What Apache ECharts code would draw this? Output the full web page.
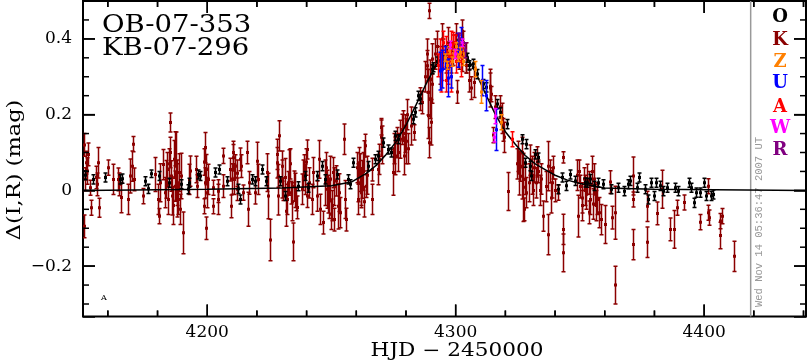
<!DOCTYPE html>
<html><head><meta charset="utf-8">
<script src="https://cdn.jsdelivr.net/npm/echarts@6/dist/echarts.min.js"></script>
<style>html,body{margin:0;padding:0;background:#fff}#c{width:807px;height:362px}</style>
</head><body><div id="c"></div>
<script>
// ---- axis ranges & ticks ----
const X_MIN = 4150, X_MAX = 4441;
const Y_MIN = -0.333, Y_MAX = 0.5;
const xMajorTicks = [4200, 4300, 4400];
const xMinorTicks = [4160, 4180, 4220, 4240, 4260, 4280, 4320, 4340, 4360, 4380, 4420, 4440];
const yMajorTicks = [-0.2, 0, 0.2, 0.4];
const yMinorTicks = [-0.3, -0.25, -0.15, -0.1, -0.05, 0.05, 0.1, 0.15, 0.25, 0.3, 0.35, 0.45];
const nowHJD = 4418.73;

// ---- titles / labels ----
const eventNames = ['OB-07-353', 'KB-07-296'];
const xTitle = 'HJD − 2450000';
const yTitle = 'Δ(I,R) (mag)';
const stamp = 'Wed Nov 14 05:36:47 2007 UT';
const stations = ['O', 'K', 'Z', 'U', 'A', 'W', 'R'];
const stationColors = ['#000000', '#8b0000', '#ff8000', '#0000ff', '#ff0000', '#ff00ff', '#800080'];

// ---- data: [HJD-2450000, delta mag, error] ----
const dataK = [
[4150.3,0.120,0.030],[4150.3,-0.095,0.030],[4151.3,0.073,0.030],[4151.6,0.051,0.035],[4152.0,0.095,0.030],
[4152.7,0.007,0.020],[4153.4,-0.046,0.020],[4155.1,0.034,0.030],[4155.6,0.016,0.030],[4156.0,0.073,0.040],
[4156.4,-0.046,0.025],[4160.1,0.060,0.020],[4162.1,0.029,0.040],[4164.1,0.029,0.030],[4164.5,0.016,0.030],
[4165.4,-0.019,0.040],[4168.1,-0.024,0.040],[4168.8,0.038,0.045],[4169.9,0.064,0.040],[4170.1,0.122,0.020],
[4170.4,0.029,0.030],[4174.1,-0.015,0.020],[4178.8,0.042,0.045],[4180.2,-0.024,0.040],[4180.6,-0.068,0.020],
[4181.1,0.020,0.050],[4182.2,0.068,0.040],[4182.9,-0.006,0.040],[4183.5,0.029,0.050],[4184.2,-0.024,0.040],
[4184.9,0.100,0.040],[4185.1,0.179,0.025],[4185.5,0.038,0.040],[4185.9,-0.015,0.050],[4186.5,0.082,0.050],
[4186.9,0.011,0.040],[4187.3,0.064,0.090],[4187.8,0.020,0.060],[4188.2,-0.024,0.040],[4188.6,0.047,0.050],
[4189.3,0.038,0.060],[4190.2,-0.112,0.055],[4192.7,0.029,0.040],[4192.9,0.051,0.040],[4195.3,0.055,0.035],
[4195.9,0.011,0.030],[4198.6,-0.042,0.020],[4199.0,0.113,0.040],[4199.4,-0.100,0.030],[4199.6,0.055,0.040],
[4199.9,-0.006,0.040],[4200.3,0.029,0.040],
[4151.0,0.030,0.030],[4183.8,0.055,0.045],[4184.5,0.070,0.040],[4186.2,-0.040,0.050],[4187.0,0.110,0.045],
[4188.0,0.000,0.070],[4188.9,-0.050,0.040],[4198.8,0.075,0.035],[4199.2,0.020,0.040],
[4202.4,0.007,0.020],[4202.4,-0.042,0.020],[4204.5,-0.024,0.040],[4204.5,-0.002,0.030],[4206.2,0.091,0.020],
[4206.5,0.011,0.030],[4209.1,0.055,0.030],[4209.6,-0.042,0.030],[4210.2,0.086,0.035],[4210.8,0.029,0.040],
[4211.2,0.064,0.030],[4211.8,0.003,0.030],[4213.2,0.082,0.030],[4213.4,0.064,0.030],[4214.2,-0.006,0.020],
[4216.1,0.100,0.030],[4216.5,-0.050,0.045],[4216.9,0.020,0.030],[4219.2,-0.006,0.030],[4220.1,0.077,0.050],
[4220.5,0.029,0.040],[4223.9,0.047,0.050],[4224.6,-0.015,0.060],[4225.2,-0.131,0.055],[4227.9,0.073,0.040],
[4228.3,0.038,0.030],[4228.6,-0.015,0.050],[4229.0,0.144,0.040],[4229.9,0.064,0.040],[4230.6,0.003,0.030],
[4231.3,0.034,0.050],[4232.0,-0.024,0.040],[4232.6,0.020,0.030],[4233.0,0.047,0.060],[4233.6,-0.006,0.030],
[4234.4,-0.136,0.050],[4234.9,0.011,0.040],[4235.7,-0.024,0.030],[4238.0,0.003,0.040],[4238.9,0.064,0.030],
[4239.3,0.029,0.040],[4240.0,0.108,0.025],[4240.3,-0.015,0.030],[4242.0,-0.024,0.040],[4242.7,0.047,0.040],
[4244.0,-0.015,0.040],[4245.1,0.082,0.050],[4245.4,-0.050,0.040],[4246.4,-0.085,0.030],[4247.4,0.020,0.060],
[4248.3,0.003,0.050],[4249.1,-0.024,0.050],[4249.7,-0.063,0.040],[4250.5,0.047,0.040],[4251.0,-0.077,0.030],
[4252.7,-0.042,0.060],
[4209.8,0.030,0.040],[4210.5,0.100,0.030],[4212.0,0.045,0.035],[4228.0,0.095,0.040],[4230.2,0.030,0.050],
[4231.8,-0.055,0.040],[4233.3,0.070,0.040],[4234.0,-0.030,0.050],[4235.2,0.000,0.045],[4236.0,-0.045,0.030],
[4238.4,0.040,0.040],[4239.8,0.075,0.035],[4240.8,0.020,0.040],[4247.8,0.060,0.040],[4248.8,-0.010,0.050],
[4249.4,0.030,0.060],[4250.2,-0.040,0.040],[4251.2,0.010,0.050],[4252.0,0.025,0.040],
[4253.0,-0.006,0.050],[4253.4,-0.059,0.040],[4255.2,0.135,0.040],[4255.4,-0.024,0.050],[4255.7,-0.077,0.030],
[4260.5,0.020,0.050],[4260.8,-0.024,0.040],[4261.1,0.073,0.040],[4261.5,0.047,0.050],[4261.9,-0.006,0.040],
[4262.4,0.029,0.050],[4263.2,0.091,0.040],[4263.7,0.118,0.030],[4264.1,0.011,0.030],[4266.2,0.055,0.030],
[4266.4,-0.024,0.040],[4268.6,0.055,0.040],[4269.1,0.082,0.040],[4269.9,0.166,0.020],[4270.3,0.120,0.050],
[4274.9,0.047,0.060],[4275.5,0.091,0.050],[4276.2,0.126,0.040],[4277.6,0.135,0.050],[4278.2,0.161,0.040],
[4278.9,0.170,0.040],[4279.3,0.091,0.050],[4280.0,0.130,0.060],[4281.0,0.110,0.040],[4283.3,0.153,0.020],
[4260.2,0.060,0.040],[4262.0,0.010,0.050],[4262.8,0.050,0.050],[4263.0,-0.030,0.040],[4264.5,0.040,0.050],
[4270.0,0.140,0.050],[4275.0,0.110,0.040],[4276.8,0.100,0.050],[4279.8,0.150,0.050],[4280.5,0.200,0.040],
[4282.0,0.170,0.050],
[4285.6,0.241,0.030],[4286.5,0.232,0.030],[4288.3,0.329,0.040],[4288.7,0.259,0.060],[4289.0,0.197,0.060],
[4289.4,0.126,0.040],[4289.4,0.474,0.020],[4289.6,0.294,0.050],[4290.3,0.347,0.040],[4290.6,0.280,0.050],
[4287.8,0.300,0.040],[4288.5,0.360,0.040],[4289.8,0.240,0.050],[4290.0,0.180,0.060],
[4291.5,0.360,0.040],[4292.5,0.380,0.040],[4293.5,0.330,0.050],[4294.5,0.400,0.040],[4295.0,0.360,0.040],
[4296.0,0.340,0.030],[4297.0,0.390,0.040],[4298.0,0.350,0.040],[4299.0,0.370,0.040],[4300.0,0.410,0.030],
[4300.4,0.260,0.030],[4301.5,0.360,0.040],[4302.4,0.420,0.030],[4302.4,0.334,0.020],[4303.0,0.390,0.030],
[4304.0,0.350,0.040],[4304.1,0.330,0.020],[4305.5,0.290,0.030],[4306.0,0.270,0.030],[4307.3,0.285,0.040],
[4313.8,0.275,0.035],[4314.0,0.270,0.050],[4314.4,0.254,0.020],[4315.1,0.146,0.020],[4315.8,0.220,0.030],
[4318.0,0.220,0.030],[4318.5,0.190,0.040],[4319.0,0.160,0.030],[4319.5,0.140,0.040],[4321.2,-0.003,0.050],
[4325.0,0.090,0.040],[4325.6,0.045,0.057],[4326.0,0.064,0.040],[4326.5,0.037,0.060],[4327.2,0.008,0.090],
[4327.5,-0.050,0.030],[4328.0,0.029,0.040],[4328.5,-0.006,0.040],[4330.0,0.080,0.040],[4330.8,0.040,0.050],
[4331.5,0.060,0.040],[4332.3,0.020,0.040],[4333.0,0.050,0.030],[4333.9,0.000,0.040],[4335.2,-0.068,0.040],
[4337.2,0.064,0.065],[4337.3,-0.117,0.053],[4338.0,0.050,0.030],[4338.6,0.020,0.040],[4339.3,0.060,0.030],
[4339.8,0.000,0.030],[4341.3,-0.006,0.020],[4343.3,0.087,0.015],[4343.3,-0.103,0.040],[4343.3,-0.165,0.050],
[4324.5,0.070,0.040],[4326.8,0.100,0.040],[4329.5,0.020,0.050],[4331.0,0.000,0.040],[4332.8,0.075,0.040],
[4334.5,0.030,0.040],[4336.2,0.010,0.040],[4338.3,-0.020,0.040],
[4348.7,0.040,0.040],[4349.3,-0.068,0.055],[4350.0,0.010,0.030],[4350.7,-0.020,0.040],[4351.5,0.030,0.030],
[4352.5,-0.010,0.040],[4353.0,0.029,0.040],[4353.5,-0.058,0.030],[4354.2,-0.024,0.040],[4354.7,0.050,0.040],
[4355.2,-0.036,0.040],[4356.0,-0.010,0.030],[4357.0,-0.024,0.040],[4357.6,-0.059,0.040],[4358.5,-0.077,0.040],
[4349.8,0.050,0.030],[4351.0,-0.040,0.040],[4352.0,0.000,0.040],[4353.8,0.020,0.030],[4355.8,0.030,0.040],
[4356.6,-0.040,0.040],
[4360.0,-0.090,0.050],[4362.1,0.022,0.030],[4363.0,-0.072,0.030],[4364.1,-0.059,0.070],[4364.3,-0.250,0.050],
[4371.2,0.038,0.050],[4371.2,-0.024,0.020],[4371.5,-0.143,0.040],[4377.1,-0.042,0.040],[4377.1,-0.137,0.040],
[4381.1,-0.061,0.030],[4382.9,0.003,0.050],[4386.2,-0.103,0.030],[4388.0,-0.103,0.050],[4389.2,-0.046,0.020],
[4392.0,-0.032,0.020],[4398.3,-0.084,0.020],[4401.4,-0.059,0.020],[4401.6,0.011,0.020],[4401.9,-0.072,0.020],
[4406.3,-0.119,0.035],[4406.3,-0.081,0.020],[4407.3,-0.068,0.020],[4412.1,-0.174,0.040]
];
const dataO = [
[4150.8,0.040,0.012],[4154.0,0.029,0.012],[4158.7,0.034,0.012],[4164.8,0.029,0.012],[4165.8,0.031,0.012],
[4174.8,0.024,0.012],[4176.2,0.004,0.012],[4177.5,0.044,0.010],[4180.6,0.038,0.012],[4184.6,0.020,0.012],
[4189.6,0.016,0.012],[4192.3,0.003,0.012],[4192.7,0.020,0.012],[4196.3,0.042,0.012],[4196.9,0.038,0.012],
[4203.1,0.047,0.012],[4204.9,0.055,0.012],[4207.8,0.024,0.012],[4212.5,0.004,0.012],[4213.2,-0.024,0.012],
[4217.9,0.029,0.012],[4219.2,0.024,0.012],[4221.9,0.055,0.012],[4223.6,0.024,0.012],[4229.3,0.024,0.012],
[4231.3,-0.015,0.012],[4236.6,0.011,0.012],[4239.3,0.038,0.012],[4240.7,0.007,0.012],[4244.0,0.038,0.012],
[4246.0,0.064,0.012],[4247.4,0.029,0.012],[4252.1,0.042,0.012],[4256.8,0.029,0.012],[4257.4,0.016,0.012],
[4258.8,0.073,0.012],[4264.8,0.064,0.012],[4267.5,0.082,0.012],[4268.8,0.091,0.012],[4270.9,0.126,0.012],
[4272.9,0.108,0.012],[4273.9,0.100,0.012],[4275.5,0.144,0.012],[4276.9,0.135,0.012],[4282.9,0.188,0.012],
[4283.6,0.206,0.012],[4284.9,0.250,0.012],[4285.6,0.241,0.012],[4290.3,0.320,0.012],[4291.0,0.325,0.012],
[4292.5,0.340,0.012],[4294.0,0.350,0.012],[4296.0,0.370,0.012],[4299.0,0.380,0.012],[4301.0,0.385,0.012],
[4303.0,0.370,0.012],[4304.5,0.350,0.012],[4305.5,0.330,0.012],[4307.1,0.334,0.012],[4308.4,0.307,0.012],
[4311.1,0.281,0.012],[4312.4,0.272,0.012],[4316.5,0.228,0.012],[4317.8,0.206,0.012],[4320.5,0.175,0.012],
[4326.5,0.135,0.012],[4328.5,0.122,0.012],[4327.9,0.073,0.012],[4329.9,0.064,0.012],[4331.9,0.095,0.012],
[4333.2,0.087,0.012],[4330.5,0.038,0.012],[4341.3,0.003,0.012],[4342.6,0.034,0.012],[4344.6,0.012,0.012],
[4346.0,0.042,0.012],[4348.0,0.025,0.012],[4352.0,0.021,0.012],[4352.7,0.020,0.012],[4354.0,0.030,0.012],
[4355.5,0.012,0.012],[4357.4,0.020,0.012],[4359.4,0.016,0.012],[4362.7,0.003,0.012],[4365.4,0.007,0.012],
[4367.8,-0.002,0.012],[4369.2,0.016,0.012],[4370.1,0.025,0.012],[4372.8,0.007,0.012],[4373.9,0.034,0.012],
[4376.1,0.003,0.012],[4377.5,-0.024,0.012],[4378.8,0.020,0.012],[4379.9,-0.015,0.012],[4380.8,0.020,0.012],
[4382.2,0.012,0.012],[4383.5,-0.002,0.012],[4384.9,0.007,0.012],[4388.2,0.007,0.012],[4389.3,-0.002,0.012],
[4393.9,0.020,0.012],[4394.9,0.007,0.012],[4396.0,-0.033,0.012],[4396.9,-0.006,0.012],[4398.3,-0.006,0.012],
[4400.0,0.020,0.012],[4400.9,-0.015,0.012],[4402.7,-0.015,0.012],[4403.6,-0.011,0.012]
];
const dataA = [
[4292.8,0.330,0.030],[4293.6,0.360,0.040],[4294.2,0.310,0.050],[4294.5,0.330,0.040],[4295.0,0.390,0.030],
[4296.2,0.366,0.040],[4296.3,0.290,0.030],[4296.8,0.320,0.040],[4297.5,0.355,0.030],[4298.2,0.300,0.040],
[4298.3,0.380,0.040],[4298.9,0.387,0.030],[4299.6,0.390,0.020],[4300.2,0.340,0.030],[4300.9,0.360,0.020],
[4301.5,0.380,0.030],[4302.2,0.340,0.040],[4303.0,0.370,0.020],[4322.5,0.135,0.020]
];
const dataU = [
[4293.5,0.315,0.050],[4294.3,0.320,0.050],[4295.5,0.350,0.030],[4296.9,0.297,0.050],[4298.3,0.300,0.030],
[4300.9,0.370,0.045],[4302.0,0.400,0.030],[4310.4,0.290,0.040],[4312.4,0.250,0.040],[4316.2,0.160,0.055]
];
const dataZ = [
[4295.5,0.350,0.010],[4296.5,0.330,0.010],[4297.5,0.370,0.010],[4298.5,0.340,0.012],[4299.2,0.360,0.010],
[4300.0,0.380,0.010],[4300.8,0.350,0.010],[4301.8,0.365,0.012],[4302.8,0.340,0.010],[4303.5,0.360,0.010],
[4307.8,0.320,0.020],[4310.0,0.260,0.030],[4318.3,0.180,0.020]
];
const dataW = [
[4297.7,0.384,0.010],[4299.6,0.360,0.012],[4302.5,0.390,0.010],[4315.8,0.196,0.020],[4315.4,0.140,0.012]
];
const dataR = [
[4301.2,0.400,0.015],[4303.6,0.370,0.020]
];
// model curve
const modelCurve = [
[4150,0.000],[4200,0.003],[4230,0.006],[4250,0.012],[4258,0.022],[4264,0.045],[4268,0.066],[4272,0.095],
[4276,0.128],[4280,0.172],[4284,0.225],[4288,0.280],[4292,0.330],[4296,0.365],[4300,0.380],[4304,0.360],
[4308,0.312],[4312,0.255],[4316,0.200],[4320,0.155],[4324,0.122],[4328,0.092],[4332,0.070],[4336,0.055],
[4340,0.040],[4345,0.027],[4350,0.018],[4360,0.006],[4380,0.003],[4441,0.000]
];

// ---- rendering ----
const FONT = '"DejaVu Serif", serif';
const chart = echarts.init(document.getElementById('c'), null, {renderer: 'canvas'});

function errRender(color, cap, box, lw) {
  return function (params, api) {
    const x = api.value(0), y = api.value(1), e = api.value(2);
    const p = api.coord([x, y]);
    const lo = api.coord([x, y - e]);
    const hi = api.coord([x, y + e]);
    const px = Math.round(p[0]) + 0.5;
    return {
      type: 'group',
      children: [
        {type: 'line', shape: {x1: px, y1: lo[1], x2: px, y2: hi[1]}, style: {stroke: color, lineWidth: lw}},
        {type: 'line', shape: {x1: px - cap, y1: lo[1], x2: px + cap, y2: lo[1]}, style: {stroke: color, lineWidth: lw}},
        {type: 'line', shape: {x1: px - cap, y1: hi[1], x2: px + cap, y2: hi[1]}, style: {stroke: color, lineWidth: lw}},
        {type: 'rect', shape: {x: px - box / 2, y: p[1] - box / 2, width: box, height: box}, style: {fill: color}}
      ]
    };
  };
}
function errSeries(data, color, z) {
  return {
    type: 'custom', data: data, clip: true, z: z,
    dimensions: ['x', 'y', 'e'], encode: {x: 0, y: 1},
    renderItem: errRender(color, 2, 3, 1.5), silent: true, animation: false
  };
}

// frame tick items: [x, y, length, kind] (kind 0 = tick on the x axes, 1 = tick on the y axes)
const tickData = [];
xMajorTicks.forEach(v => tickData.push([v, Y_MIN, 12, 0]));
xMinorTicks.forEach(v => tickData.push([v, Y_MIN, 6, 0]));
yMajorTicks.forEach(v => tickData.push([X_MIN, v, 12, 1]));
yMinorTicks.forEach(v => tickData.push([X_MIN, v, 6, 1]));
const TW = 1.5;
function tickRender(params, api) {
  const x = api.value(0), y = api.value(1), len = api.value(2), kind = api.value(3);
  const st = {fill: '#000'};
  if (kind === 0) {
    const b = api.coord([x, Y_MIN]), t = api.coord([x, Y_MAX]);
    return {type: 'group', children: [
      {type: 'rect', shape: {x: b[0] - TW / 2, y: b[1] - len, width: TW, height: len}, style: st},
      {type: 'rect', shape: {x: t[0] - TW / 2, y: t[1], width: TW, height: len}, style: {fill: '#000'}}
    ]};
  }
  const l = api.coord([X_MIN, y]), r = api.coord([X_MAX, y]);
  return {type: 'group', children: [
    {type: 'rect', shape: {x: l[0], y: l[1] - TW / 2, width: len, height: TW}, style: st},
    {type: 'rect', shape: {x: r[0] - len, y: r[1] - TW / 2, width: len, height: TW}, style: {fill: '#000'}}
  ]};
}

const option = {
  animation: false,
  backgroundColor: '#fff',
  grid: {left: 83, top: 1, right: 1, bottom: 45.5, show: true, borderColor: '#000', borderWidth: 2, backgroundColor: 'transparent'},
  xAxis: {
    type: 'value', min: X_MIN, max: X_MAX, position: 'bottom',
    axisLine: {show: false, onZero: false}, axisTick: {show: false},
    axisLabel: {show: true, customValues: xMajorTicks, color: '#000', fontFamily: FONT, fontSize: 17, margin: 8, formatter: v => String(v)},
    splitLine: {show: false}
  },
  yAxis: [{
    type: 'value', min: Y_MIN, max: Y_MAX, position: 'left',
    axisLine: {show: false, onZero: false},
    axisTick: {show: true, inside: true, length: 12, lineStyle: {color: '#000', width: 1.5}},
    axisLabel: {show: true, customValues: yMajorTicks, color: '#000', fontFamily: FONT, fontSize: 17, margin: 11,
      formatter: v => (Math.abs(v) < 1e-9 ? '0' : (v < 0 ? '−' + Math.abs(v).toFixed(1) : v.toFixed(1)))},
    splitLine: {show: false}
  }, {
    type: 'value', min: Y_MIN, max: Y_MAX, position: 'right',
    axisLine: {show: false, onZero: false},
    axisTick: {show: true, inside: true, length: 12, lineStyle: {color: '#000', width: 1.5}},
    axisLabel: {show: false}, splitLine: {show: false}
  }],
  series: [
    {type: 'line', data: [[nowHJD, Y_MIN], [nowHJD, Y_MAX]], symbol: 'none', lineStyle: {color: '#999', width: 1.5}, z: 1, silent: true},
    errSeries(dataK, '#8b0000', 2),
    {type: 'line', data: modelCurve, symbol: 'none', lineStyle: {color: '#000', width: 1.5}, z: 3, silent: true, clip: true},
    errSeries(dataO, '#000000', 4),
    errSeries(dataA, '#ff0000', 5),
    errSeries(dataU, '#0000ff', 6),
    errSeries(dataZ, '#ff8000', 7),
    errSeries(dataW, '#ff00ff', 8),
    errSeries(dataR, '#800080', 9),
    {type: 'custom', data: tickData, dimensions: ['x', 'y', 'len', 'kind'], encode: {x: 0, y: 1},
      clip: false, z: 30, silent: true, animation: false, renderItem: tickRender}
  ]
};
chart.setOption(option);

// ---- text and frame ticks (ticks placed through the chart's own axis scales) ----
const graphics = [
  {type: 'text', x: 102, y: 25, scaleX: 1.1, style: {text: eventNames[0], x: 0, y: 0, font: '25px ' + FONT, fill: '#000', textAlign: 'left', textVerticalAlign: 'middle'}},
  {type: 'text', x: 102, y: 48, scaleX: 1.1, style: {text: eventNames[1], x: 0, y: 0, font: '25px ' + FONT, fill: '#000', textAlign: 'left', textVerticalAlign: 'middle'}},
  {type: 'text', x: 457, y: 351, scaleX: 1.2, style: {text: xTitle, x: 0, y: 0, font: '18px ' + FONT, fill: '#000', textAlign: 'center', textVerticalAlign: 'middle'}},
  {type: 'text', rotation: Math.PI / 2, x: 15, y: 170, scaleX: 1.25, style: {text: yTitle, x: 0, y: 0, font: '18px ' + FONT, fill: '#000', textAlign: 'center', textVerticalAlign: 'middle'}},
  {type: 'text', rotation: Math.PI / 2, x: 759, y: 222, style: {text: stamp, x: 0, y: 0, font: '10.5px "Liberation Mono", monospace', fill: '#999', textAlign: 'center', textVerticalAlign: 'middle'}},
  {type: 'text', x: 104, y: 298, style: {text: 'A', x: 0, y: 0, font: '8px ' + FONT, fill: '#000', textAlign: 'center', textVerticalAlign: 'middle'}}
];
const legendY = [17, 40, 62, 83, 107, 128, 150];
stations.forEach((s, i) => {
  graphics.push({type: 'text', x: 780, y: legendY[i], style: {text: s, x: 0, y: 0, font: 'bold 18px ' + FONT, fill: stationColors[i], textAlign: 'center', textVerticalAlign: 'middle'}});
});
const toPx = (x, y) => chart.convertToPixel({gridIndex: 0}, [x, y]);
const bl = toPx(X_MIN, Y_MIN), tr = toPx(X_MAX, Y_MAX);
function addXTick(v, len) {
  const px = toPx(v, Y_MIN)[0];
  graphics.push({type: 'rect', z: 100, shape: {x: px - TW / 2, y: bl[1] - len, width: TW, height: len}, style: {fill: '#000'}});
  graphics.push({type: 'rect', z: 100, shape: {x: px - TW / 2, y: tr[1], width: TW, height: len}, style: {fill: '#000'}});
}
xMajorTicks.forEach(v => addXTick(v, 12));
xMinorTicks.forEach(v => addXTick(v, 6));
chart.setOption({graphic: graphics});
</script></body></html>
